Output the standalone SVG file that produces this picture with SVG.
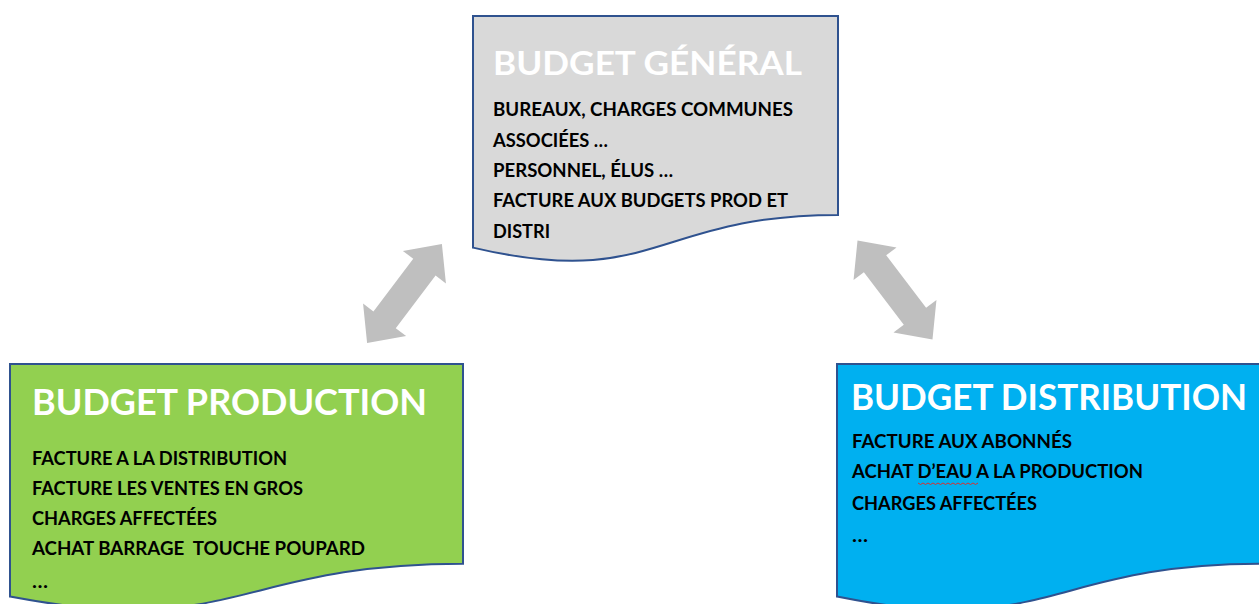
<svg xmlns="http://www.w3.org/2000/svg" width="1259" height="604" viewBox="0 0 1259 604">
<style>
.box{stroke:#2F528F;stroke-width:2;}
.title{font-family:Lato,"Open Sans","Liberation Sans",sans-serif;font-weight:700;fill:#FFFFFF;}
.body{font-family:Lato,"Open Sans","Liberation Sans",sans-serif;font-weight:700;font-size:19.5px;fill:#000000;white-space:pre;}
.arrow{fill:#BFBFBF;}
</style>
<defs>
<polygon id="dbl" points="62,0 33,-27 33,-14 -33,-14 -33,-27 -62,0 -33,27 -33,14 33,14 33,27"/>
</defs>
<rect width="1259" height="604" fill="#FFFFFF"/>
<g id="connectors">
<use href="#dbl" class="arrow" transform="translate(404.5,293.5) rotate(-52.9)"/>
<use href="#dbl" class="arrow" transform="translate(895,290) rotate(52.8)"/>
</g>
<g id="budget-general">
<path class="box" fill="#D9D9D9" d="M473,16 H838 V214.9 C655.5,214.9 655.5,290.7 473,247.6 Z"/>
<text class="title" x="493" y="75" font-size="32" textLength="309" lengthAdjust="spacingAndGlyphs">BUDGET GÉNÉRAL</text>
<text class="body" x="493" y="116" textLength="300" lengthAdjust="spacingAndGlyphs">BUREAUX, CHARGES COMMUNES</text>
<text class="body" x="493" y="147" textLength="115" lengthAdjust="spacingAndGlyphs">ASSOCIÉES …</text>
<text class="body" x="493" y="177" textLength="180" lengthAdjust="spacingAndGlyphs">PERSONNEL, ÉLUS …</text>
<text class="body" x="493" y="207" textLength="295" lengthAdjust="spacingAndGlyphs">FACTURE AUX BUDGETS PROD ET</text>
<text class="body" x="493" y="238" textLength="57" lengthAdjust="spacingAndGlyphs">DISTRI</text>
</g>
<g id="budget-production">
<path class="box" fill="#92D050" d="M10,364 H463 V563.7 C236.5,563.7 236.5,639.8 10,596.6 Z"/>
<text class="title" x="32" y="415" font-size="36" textLength="395" lengthAdjust="spacingAndGlyphs">BUDGET PRODUCTION</text>
<text class="body" x="32" y="465" textLength="255" lengthAdjust="spacingAndGlyphs">FACTURE A LA DISTRIBUTION</text>
<text class="body" x="32" y="495" textLength="271" lengthAdjust="spacingAndGlyphs">FACTURE LES VENTES EN GROS</text>
<text class="body" x="32" y="525" textLength="185" lengthAdjust="spacingAndGlyphs">CHARGES AFFECTÉES</text>
<text class="body" x="32" y="555" textLength="333" lengthAdjust="spacingAndGlyphs" xml:space="preserve">ACHAT BARRAGE  TOUCHE POUPARD</text>
<text class="body" x="32" y="588" textLength="16" lengthAdjust="spacingAndGlyphs">…</text>
</g>
<g id="budget-distribution">
<path class="box" fill="#00B0F0" d="M837,364 H1261 V563.7 C1049,563.7 1049,639.8 837,596.6 Z"/>
<text class="title" x="851" y="410" font-size="37" textLength="396" lengthAdjust="spacingAndGlyphs">BUDGET DISTRIBUTION</text>
<text class="body" x="852" y="448" textLength="220" lengthAdjust="spacingAndGlyphs">FACTURE AUX ABONNÉS</text>
<text class="body" x="852" y="478" textLength="291" lengthAdjust="spacingAndGlyphs">ACHAT D’EAU A LA PRODUCTION</text>
<path d="M918,483 l2.5,1.5 l2.5,-1.5 l2.5,1.5 l2.5,-1.5 l2.5,1.5 l2.5,-1.5 l2.5,1.5 l2.5,-1.5 l2.5,1.5 l2.5,-1.5 l2.5,1.5 l2.5,-1.5 l2.5,1.5 l2.5,-1.5 l2.5,1.5 l2.5,-1.5 l2.5,1.5 l2.5,-1.5 l2.5,1.5 l2.5,-1.5 l2.5,1.5 l2.5,-1.5 l2.5,1.5 l2.5,-1.5" fill="none" stroke="#D83030" stroke-width="1"/>
<text class="body" x="852" y="510" textLength="185" lengthAdjust="spacingAndGlyphs">CHARGES AFFECTÉES</text>
<text class="body" x="852" y="542" textLength="16" lengthAdjust="spacingAndGlyphs">…</text>
</g>
</svg>
